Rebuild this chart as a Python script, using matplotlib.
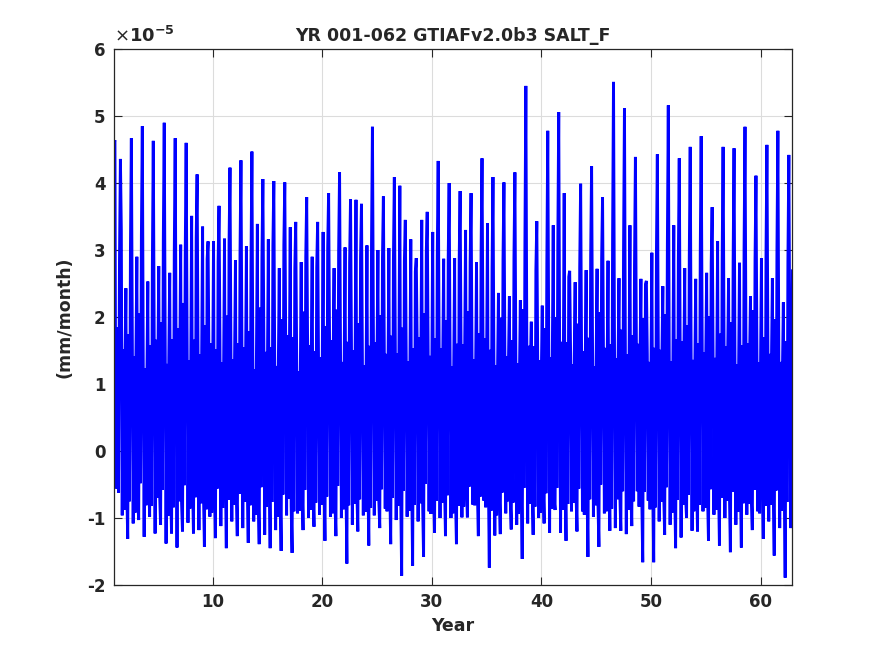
import numpy as np
import matplotlib
matplotlib.use("Agg")
import matplotlib.pyplot as plt

plt.rcParams['font.family'] = ['DejaVu Sans']
plt.rcParams['axes.unicode_minus'] = False

# Monthly SALT_F values, units of 1e-5 mm/month, one row per model year (Jan..Dec)
y01 = [4.60, 4.64, -0.45, -0.56, 1.85, -0.62, 2.85, 4.36, 3.30, -0.96, 1.52, -0.88]
y02 = [1.25, 2.43, -0.58, -1.31, 1.74, -0.75, 3.01, 4.67, 1.62, -1.08, 1.41, -0.92]
y03 = [1.42, 2.90, -0.72, -1.03, 2.05, -0.48, 3.22, 4.85, 1.34, -1.28, 1.23, -0.81]
y04 = [1.06, 2.53, -0.41, -0.98, 1.58, -0.82, 2.76, 4.63, 1.55, -1.23, 1.66, -0.70]
y05 = [1.25, 2.76, -0.65, -1.10, 1.92, -0.58, 3.15, 4.90, 1.72, -1.38, 1.30, -0.97]
y06 = [1.38, 2.66, -0.53, -1.23, 1.67, -0.84, 2.95, 4.67, 1.41, -1.44, 1.83, -0.75]
y07 = [1.31, 3.08, -0.78, -1.20, 2.21, -0.51, 2.94, 4.60, 1.88, -1.07, 1.35, -0.86]
y08 = [1.12, 3.51, -0.47, -1.23, 1.66, -0.69, 3.18, 4.13, 1.53, -1.18, 1.44, -0.78]
y09 = [1.44, 3.35, -0.65, -1.43, 1.88, -0.87, 2.87, 3.13, 1.26, -0.98, 1.61, -0.92]
y10 = [1.21, 3.13, -0.55, -1.30, 1.52, -0.56, 2.83, 3.66, 1.64, -1.12, 1.32, -0.85]
y11 = [1.17, 3.17, -0.36, -1.45, 2.02, -0.73, 3.11, 4.23, 1.48, -1.05, 1.37, -0.80]
y12 = [1.33, 2.85, -0.68, -1.27, 1.61, -0.64, 2.96, 4.34, 1.77, -1.15, 1.55, -0.76]
y13 = [1.22, 3.06, -0.52, -1.37, 1.79, -0.81, 2.78, 4.47, 1.45, -1.05, 1.22, -0.95]
y14 = [1.46, 3.39, -0.70, -1.39, 2.14, -0.54, 2.88, 4.06, 1.86, -1.25, 1.48, -0.83]
y15 = [1.08, 3.16, -0.40, -1.45, 1.55, -0.76, 3.06, 4.03, 1.21, -1.18, 1.27, -0.98]
y16 = [1.35, 2.73, -0.62, -1.49, 1.97, -0.65, 3.08, 4.01, 1.69, -0.96, 1.73, -0.71]
y17 = [1.28, 3.34, -0.82, -1.52, 1.70, -0.90, 2.72, 3.42, 1.43, -0.93, 1.19, -0.89]
y18 = [1.10, 2.82, -0.48, -1.18, 2.08, -0.58, 2.90, 3.79, 1.58, -1.00, 1.58, -0.88]
y19 = [1.43, 2.90, -0.60, -1.13, 1.49, -0.77, 2.74, 3.42, 1.29, -0.95, 1.40, -0.80]
y20 = [1.21, 3.27, -0.45, -1.34, 1.86, -0.68, 3.03, 3.85, 1.74, -0.98, 1.65, -0.93]
y21 = [1.39, 2.73, -0.77, -1.27, 2.11, -0.52, 2.99, 4.16, 1.51, -1.00, 1.33, -0.87]
y22 = [1.22, 3.04, -0.51, -1.68, 1.63, -0.81, 2.81, 3.76, 1.65, -1.10, 1.50, -0.79]
y23 = [1.28, 3.75, -0.63, -1.20, 1.91, -0.72, 2.90, 3.69, 1.24, -0.96, 1.28, -0.91]
y24 = [1.19, 3.07, -0.40, -1.41, 1.57, -0.85, 3.10, 4.84, 1.81, -0.96, 1.62, -0.74]
y25 = [1.36, 3.00, -0.74, -1.15, 2.03, -0.57, 2.89, 3.80, 1.46, -0.86, 1.45, -0.90]
y26 = [1.17, 3.03, -0.54, -1.39, 1.72, -0.70, 2.86, 4.09, 1.68, -1.03, 1.46, -0.82]
y27 = [1.40, 3.96, -0.69, -1.86, 1.84, -0.59, 2.84, 3.45, 1.37, -0.98, 1.34, -0.89]
y28 = [1.14, 3.16, -0.46, -1.71, 1.53, -0.80, 2.68, 2.88, 1.60, -1.05, 1.70, -0.78]
y29 = [1.30, 3.45, -0.79, -1.58, 2.06, -0.49, 2.98, 3.57, 1.49, -0.90, 1.42, -0.94]
y30 = [1.24, 3.27, -0.60, -1.22, 1.68, -0.74, 2.92, 4.33, 1.79, -1.00, 1.53, -0.77]
y31 = [1.35, 2.87, -0.53, -1.27, 1.95, -0.66, 2.89, 4.00, 1.43, -1.00, 1.26, -0.93]
y32 = [1.20, 2.88, -0.71, -1.39, 1.60, -0.82, 2.84, 3.88, 1.65, -0.99, 1.59, -0.83]
y33 = [1.44, 3.30, -0.51, -0.99, 2.09, -0.53, 2.82, 3.85, 1.50, -0.80, 1.37, -0.81]
y34 = [1.18, 2.82, -0.65, -1.27, 1.76, -0.68, 2.97, 4.37, 1.72, -0.74, 1.68, -0.84]
y35 = [1.39, 3.40, -0.46, -1.74, 1.51, -0.89, 2.73, 4.09, 1.40, -1.26, 1.28, -0.96]
y36 = [1.16, 2.36, -0.66, -1.24, 1.99, -0.62, 2.86, 4.01, 1.56, -0.93, 1.41, -0.75]
y37 = [1.36, 2.31, -0.76, -1.17, 1.65, -0.77, 2.89, 4.16, 1.63, -1.10, 1.31, -0.94]
y38 = [1.13, 2.25, -0.48, -1.61, 2.12, -0.55, 3.12, 5.45, 1.78, -1.08, 1.57, -0.79]
y39 = [1.32, 1.93, -0.61, -1.25, 1.56, -0.83, 2.70, 3.43, 1.35, -1.00, 1.35, -0.92]
y40 = [1.19, 2.17, -0.52, -1.08, 1.83, -0.63, 2.80, 4.78, 1.64, -1.22, 1.40, -0.86]
y41 = [1.41, 3.37, -0.73, -0.88, 2.00, -0.55, 3.05, 5.06, 1.52, -1.22, 1.63, -0.88]
y42 = [1.17, 3.85, -0.43, -1.34, 1.62, -0.79, 2.60, 2.69, 1.45, -0.90, 1.29, -0.77]
y43 = [1.37, 2.52, -0.64, -1.20, 1.90, -0.56, 2.75, 3.99, 1.60, -0.90, 1.49, -0.95]
y44 = [1.22, 2.70, -0.57, -1.58, 1.69, -0.72, 2.91, 4.25, 1.77, -0.98, 1.26, -0.81]
y45 = [1.38, 2.72, -0.78, -1.43, 2.07, -0.50, 2.87, 3.79, 1.47, -0.93, 1.54, -0.90]
y46 = [1.15, 2.84, -0.41, -1.19, 1.59, -0.86, 3.18, 5.51, 1.83, -1.15, 1.38, -0.72]
y47 = [1.33, 2.58, -0.67, -1.19, 1.81, -0.60, 3.00, 5.12, 1.38, -1.24, 1.44, -0.88]
y48 = [1.18, 3.37, -0.59, -1.12, 1.73, -0.75, 2.77, 4.39, 1.69, -0.60, 1.60, -0.83]
y49 = [1.34, 2.57, -0.72, -1.66, 1.98, -0.61, 2.49, 2.54, 1.44, -0.74, 1.33, -0.87]
y50 = [1.20, 2.96, -0.47, -1.66, 1.54, -0.84, 2.93, 4.43, 1.72, -1.05, 1.51, -0.76]
y51 = [1.41, 2.46, -0.64, -1.25, 2.04, -0.54, 3.09, 5.16, 1.49, -1.10, 1.34, -0.92]
y52 = [1.23, 3.37, -0.53, -1.45, 1.67, -0.73, 2.85, 4.37, 1.61, -1.29, 1.64, -0.80]
y53 = [1.33, 2.73, -0.70, -1.00, 1.88, -0.65, 2.92, 4.54, 1.46, -1.19, 1.36, -0.90]
y54 = [1.16, 2.57, -0.44, -1.20, 1.61, -0.80, 2.95, 4.70, 1.78, -0.90, 1.47, -0.85]
y55 = [1.35, 2.66, -0.66, -1.34, 2.01, -0.57, 2.80, 3.64, 1.51, -0.95, 1.39, -0.88]
y56 = [1.17, 3.13, -0.50, -1.41, 1.75, -0.70, 2.87, 4.54, 1.72, -1.00, 1.56, -0.74]
y57 = [1.39, 2.58, -0.68, -1.51, 1.92, -0.61, 2.82, 4.52, 1.42, -1.10, 1.29, -0.91]
y58 = [1.21, 2.81, -0.55, -1.44, 1.58, -0.78, 3.04, 4.84, 1.75, -0.95, 1.61, -0.79]
y59 = [1.38, 2.31, -0.74, -1.18, 2.10, -0.58, 2.85, 4.11, 1.54, -0.90, 1.32, -0.93]
y60 = [1.25, 2.88, -0.46, -1.31, 1.70, -0.82, 2.90, 4.57, 1.66, -1.05, 1.45, -0.80]
y61 = [1.36, 2.58, -0.62, -1.56, 1.97, -0.59, 3.01, 4.78, 1.49, -1.15, 1.33, -0.89]
y62 = [1.19, 2.22, -0.51, -1.89, 1.64, -0.76, 2.83, 4.42, 1.55, -1.15, -0.48, 2.69]

years_rows = [y01, y02, y03, y04, y05, y06, y07, y08, y09, y10,
              y11, y12, y13, y14, y15, y16, y17, y18, y19, y20,
              y21, y22, y23, y24, y25, y26, y27, y28, y29, y30,
              y31, y32, y33, y34, y35, y36, y37, y38, y39, y40,
              y41, y42, y43, y44, y45, y46, y47, y48, y49, y50,
              y51, y52, y53, y54, y55, y56, y57, y58, y59, y60,
              y61, y62]
scale = 1e-5
first_year = 1

salt_f = np.array(years_rows).ravel() * scale
time = first_year + np.arange(salt_f.size) / 12.0

xticks = [10, 20, 30, 40, 50, 60]
yticks = [-2, -1, 0, 1, 2, 3, 4, 5, 6]

txt = '#262626'
fig = plt.figure(figsize=(8.75, 6.56), dpi=100)
ax = fig.add_axes([0.1303, 0.1082, 0.7754, 0.8170])
ax.plot(time, salt_f, color='#0000ff', linewidth=2.1, solid_joinstyle='miter')

ax.set_xlim(time[0], time[-1])
ax.set_ylim(yticks[0] * scale, yticks[-1] * scale)
ax.set_xticks(xticks)
ax.set_yticks([v * scale for v in yticks])
ax.set_yticklabels([str(v) for v in yticks])

ax.grid(True, color='#dcdcdc', linewidth=0.8)
ax.set_axisbelow(True)
ax.tick_params(direction='in', length=5.5, width=0.8, top=True, right=True,
               labelsize=12, colors=txt, pad=6)
for lab in ax.get_xticklabels() + ax.get_yticklabels():
    lab.set_fontweight('bold')
for s in ax.spines.values():
    s.set_color(txt)
    s.set_linewidth(0.9)

ax.text(0.0, 1.006, r'$\times\mathbf{10^{-5}}$', transform=ax.transAxes,
        ha='left', va='bottom', fontsize=13, color=txt)

ax.set_title('YR 001-062 GTIAFv2.0b3 SALT_F', fontsize=12.5, fontweight='bold',
             color=txt, pad=6)
ax.set_xlabel('Year', fontsize=12.5, fontweight='bold', color=txt, labelpad=4)
ax.set_ylabel('(mm/month)', fontsize=12.5, fontweight='bold', color=txt, labelpad=10)

fig.savefig('out.png', dpi=100, facecolor='white')
